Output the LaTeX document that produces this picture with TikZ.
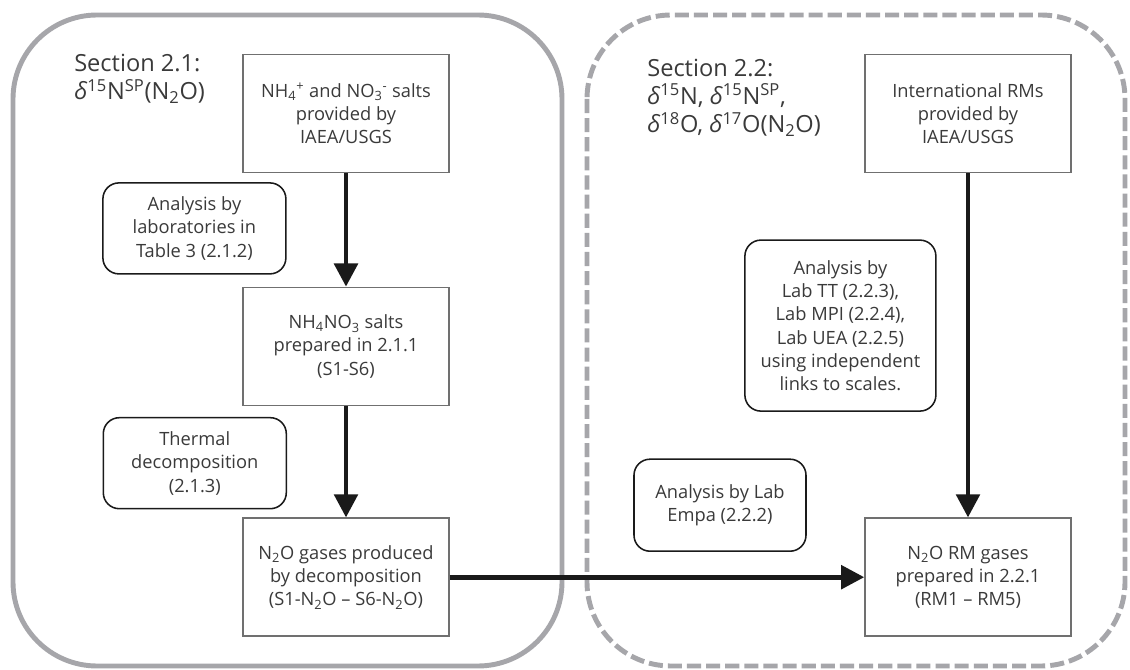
\documentclass[tikz,border=0pt]{standalone}
\usepackage{fontspec}
\setmainfont{Open Sans}
\usepackage{tikz}
\usetikzlibrary{arrows.meta,positioning}
\definecolor{framegray}{RGB}{166,166,170}
\definecolor{boxgray}{RGB}{112,112,112}
\definecolor{txtgray}{RGB}{58,58,58}
\definecolor{arrowblack}{RGB}{26,26,26}
\newcommand{\ionsub}[2]{\textsubscript{#1}\textsuperscript{#2}}
\newcommand{\dlt}{\textit{δ}}
\tikzset{
  region/.style={draw=framegray, line width=3.5pt, rounded corners=2.1cm},
  regiondash/.style={draw=framegray, line width=3.5pt, rounded corners=2.1cm, dash pattern=on 10pt off 3.6pt},
  sectitle/.style={anchor=base west, inner sep=0pt, align=left, text=txtgray, font=\fontsize{16.8}{20.2}\selectfont},
  box/.style={draw=boxgray, line width=1pt, minimum width=5.15cm, minimum height=2.95cm, align=center, text=txtgray, font=\fontsize{13}{16.6}\selectfont},
  note/.style={draw=arrowblack, line width=1.1pt, rounded corners=0.4cm, align=center, text=txtgray, font=\fontsize{13}{16.6}\selectfont},
  arrow/.style={-{Triangle[length=0.58cm, width=0.58cm]}, line width=3.5pt, draw=arrowblack}
}
\begin{document}
\begin{tikzpicture}[x=1cm,y=1cm]
  \useasboundingbox[fill=white] (0,0) rectangle (28.25,-16.75);
  \draw[region] (0.325,-0.375) rectangle (14.05,-16.65);
  \draw[regiondash] (14.675,-0.375) rectangle (28.125,-16.65);
  \node[sectitle] (sec21) at (1.85,-2.5) {Section 2.1:\\\dlt\textsuperscript{15}N\textsuperscript{SP}(N\textsubscript{2}O)};
  \node[sectitle] (sec22) at (16.175,-3.325) {Section 2.2:\\\dlt\textsuperscript{15}N, \dlt\textsuperscript{15}N\textsuperscript{SP},\\\dlt\textsuperscript{18}O, \dlt\textsuperscript{17}O(N\textsubscript{2}O)};
  \node[box] (salts) at (8.65,-2.84) {NH\ionsub{4}{+} and NO\ionsub{3}{-} salts\\provided by\\IAEA/USGS};
  \node[box] (prep) at (8.65,-8.66) {NH\textsubscript{4}NO\textsubscript{3} salts\\prepared in 2.1.1\\(S1-S6)};
  \node[box] (gases) at (8.65,-14.43) {N\textsubscript{2}O gases produced\\by decomposition\\(S1-N\textsubscript{2}O – S6-N\textsubscript{2}O)};
  \node[box] (intl) at (24.2,-2.84) {International RMs\\provided by\\IAEA/USGS};
  \node[box] (rmgas) at (24.2,-14.43) {N\textsubscript{2}O RM gases\\prepared in 2.2.1\\(RM1 – RM5)};
  \node[note, minimum width=4.575cm, minimum height=2.275cm] (anlab) at (4.86,-5.71) {Analysis by\\laboratories in\\Table 3 (2.1.2)};
  \node[note, minimum width=4.575cm, minimum height=2.275cm] (thermal) at (4.87,-11.58) {Thermal\\decomposition\\(2.1.3)};
  \node[note, minimum width=4.775cm, minimum height=4.275cm] (anmulti) at (21.01,-8.14) {Analysis by\\Lab TT (2.2.3),\\Lab MPI (2.2.4),\\Lab UEA (2.2.5)\\using independent\\links to scales.};
  \node[note, minimum width=4.3cm, minimum height=2.3cm] (empa) at (18.0,-12.63) {Analysis by Lab\\Empa (2.2.2)};
  \foreach \a/\b in {salts/prep,prep/gases,intl/rmgas,gases/rmgas}
    \draw[arrow] (\a) -- (\b);
\end{tikzpicture}
\end{document}
